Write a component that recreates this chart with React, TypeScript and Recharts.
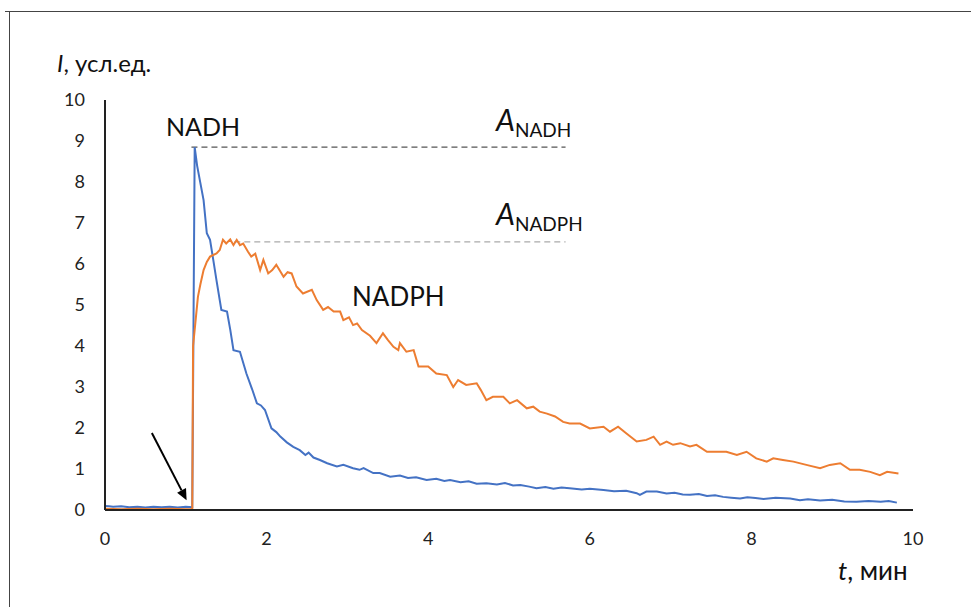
import { LineChart, Line, XAxis, YAxis, ReferenceLine } from 'recharts';

// NADH (blue) curve, t in minutes, I in arb. units
const nadhT = [0, 0.05, 0.1, 0.2, 0.3, 0.4, 0.5, 0.6, 0.7, 0.8, 0.9, 1.0, 1.08, 1.11, 1.14, 1.18, 1.22, 1.26, 1.3, 1.34, 1.38, 1.42, 1.44, 1.51, 1.55, 1.59, 1.67, 1.75, 1.82, 1.88, 1.93, 1.98, 2.06, 2.12, 2.17, 2.25, 2.33, 2.41, 2.48, 2.52, 2.58, 2.66, 2.75, 2.87, 2.95, 3.07, 3.15, 3.2, 3.32, 3.4, 3.53, 3.65, 3.75, 3.85, 3.98, 4.1, 4.2, 4.27, 4.4, 4.5, 4.6, 4.72, 4.85, 4.95, 5.05, 5.14, 5.25, 5.34, 5.45, 5.55, 5.65, 5.75, 5.9, 6.0, 6.17, 6.3, 6.45, 6.58, 6.62, 6.7, 6.83, 6.95, 7.05, 7.15, 7.24, 7.35, 7.45, 7.55, 7.65, 7.75, 7.86, 7.95, 8.05, 8.15, 8.3, 8.48, 8.6, 8.7, 8.85, 9.0, 9.15, 9.3, 9.45, 9.6, 9.7, 9.8];
const nadhI = [0.1, 0.09, 0.08, 0.09, 0.07, 0.08, 0.06, 0.08, 0.07, 0.08, 0.06, 0.08, 0.07, 8.85, 8.4, 7.98, 7.56, 6.75, 6.59, 6.1, 5.6, 5.12, 4.88, 4.84, 4.4, 3.9, 3.86, 3.33, 2.95, 2.6, 2.55, 2.44, 1.99, 1.9, 1.79, 1.65, 1.54, 1.46, 1.34, 1.4, 1.28, 1.22, 1.14, 1.06, 1.1, 1.02, 0.98, 1.02, 0.9, 0.9, 0.81, 0.84, 0.78, 0.8, 0.73, 0.76, 0.71, 0.73, 0.68, 0.7, 0.64, 0.65, 0.62, 0.66, 0.6, 0.61, 0.57, 0.53, 0.56, 0.52, 0.55, 0.53, 0.5, 0.52, 0.49, 0.46, 0.47, 0.41, 0.37, 0.45, 0.45, 0.4, 0.42, 0.38, 0.37, 0.39, 0.34, 0.36, 0.32, 0.3, 0.28, 0.31, 0.29, 0.27, 0.3, 0.28, 0.24, 0.26, 0.23, 0.25, 0.21, 0.2, 0.22, 0.2, 0.22, 0.18];

// NADPH (orange) curve
const nadphT = [0, 0.2, 0.4, 0.6, 0.8, 1.0, 1.08, 1.09, 1.11, 1.15, 1.18, 1.22, 1.26, 1.3, 1.38, 1.42, 1.46, 1.5, 1.55, 1.59, 1.63, 1.67, 1.71, 1.77, 1.81, 1.86, 1.92, 1.96, 2.02, 2.07, 2.12, 2.21, 2.26, 2.31, 2.37, 2.45, 2.56, 2.62, 2.7, 2.76, 2.83, 2.91, 2.95, 3.02, 3.07, 3.12, 3.18, 3.28, 3.36, 3.44, 3.5, 3.57, 3.63, 3.65, 3.73, 3.82, 3.88, 4.0, 4.1, 4.23, 4.31, 4.37, 4.47, 4.6, 4.65, 4.72, 4.8, 4.93, 5.01, 5.1, 5.22, 5.3, 5.38, 5.47, 5.57, 5.67, 5.75, 5.88, 6.0, 6.17, 6.25, 6.35, 6.45, 6.58, 6.7, 6.79, 6.87, 6.95, 7.03, 7.12, 7.24, 7.32, 7.45, 7.57, 7.69, 7.82, 7.94, 8.06, 8.19, 8.27, 8.39, 8.52, 8.68, 8.85, 8.97, 9.1, 9.22, 9.34, 9.47, 9.59, 9.68, 9.82];
const nadphI = [0.03, 0.02, 0.03, 0.02, 0.03, 0.02, 0.02, 4.0, 4.4, 5.2, 5.5, 5.85, 6.05, 6.18, 6.26, 6.34, 6.59, 6.5, 6.6, 6.46, 6.59, 6.46, 6.5, 6.3, 6.18, 6.25, 5.85, 6.1, 5.77, 5.85, 5.98, 5.69, 5.8, 5.77, 5.45, 5.28, 5.37, 5.12, 4.88, 4.95, 4.84, 4.84, 4.63, 4.7, 4.51, 4.55, 4.39, 4.25, 4.07, 4.31, 4.15, 3.98, 3.9, 4.07, 3.86, 3.9, 3.5, 3.5, 3.33, 3.29, 3.0, 3.17, 3.05, 3.09, 2.93, 2.68, 2.76, 2.76, 2.6, 2.68, 2.48, 2.52, 2.4, 2.35, 2.28, 2.15, 2.11, 2.11, 1.99, 2.03, 1.91, 2.03, 1.87, 1.67, 1.71, 1.79, 1.59, 1.67, 1.59, 1.63, 1.55, 1.59, 1.42, 1.42, 1.42, 1.34, 1.42, 1.26, 1.18, 1.26, 1.22, 1.18, 1.1, 1.02, 1.1, 1.14, 0.98, 0.98, 0.93, 0.85, 0.93, 0.89];

const xTicks = [0, 2, 4, 6, 8, 10];
const yTicks = [0, 1, 2, 3, 4, 5, 6, 7, 8, 9, 10];

// amplitude levels and extent of the dashed markers
const ampNadh = 8.85;
const ampNadph = 6.54;
const ampNadhFrom = 1.07;
const ampNadphFrom = 1.6;
const ampTo = 5.7;

// injection arrow (start -> end, data coords)
const arrowFrom = { x: 0.58, y: 1.88 };
const arrowTo = { x: 1.01, y: 0.24 };

const nadhData = nadhT.map((t, i) => ({ t, v: nadhI[i] }));
const nadphData = nadphT.map((t, i) => ({ t, v: nadphI[i] }));

const font = 'Lato, "Open Sans", sans-serif';

const Arrow = (props: any) => {
    const { x1, y1, x2, y2 } = props;
    const ang = Math.atan2(y2 - y1, x2 - x1);
    const len = 11;
    const w = 5;
    const bx = x2 - len * Math.cos(ang);
    const by = y2 - len * Math.sin(ang);
    const px = -Math.sin(ang) * w;
    const py = Math.cos(ang) * w;
    return (
        <g>
            <line x1={x1} y1={y1} x2={bx} y2={by} stroke="#000" strokeWidth={2} />
            <polygon points={`${x2},${y2} ${bx + px},${by + py} ${bx - px},${by - py}`} fill="#000" />
        </g>
    );
};

const sub = { fontSize: 19, position: 'relative' as const, top: 6 };

export default function App() {
    return (
        <div style={{ position: 'fixed', left: 0, top: 0, width: 971, height: 607, background: '#fff', fontFamily: font, overflow: 'hidden' }}>
            <div style={{ position: 'absolute', left: 5, top: 11, width: 966, height: 0, borderTop: '1.5px solid #444' }} />
            <div style={{ position: 'absolute', left: 9, top: 11, width: 0, height: 596, borderLeft: '1.5px solid #444' }} />

            <LineChart width={971} height={607} data={nadhData} margin={{ top: 100, right: 58, left: 0, bottom: 0 }}>
                <XAxis
                    dataKey="t"
                    type="number"
                    domain={[0, 10]}
                    ticks={xTicks}
                    height={97}
                    tickLine={false}
                    tickSize={0}
                    tickMargin={22}
                    axisLine={{ stroke: '#222', strokeWidth: 2 }}
                    tick={{ fill: '#222', fontSize: 18, fontFamily: font }}
                />
                <YAxis
                    type="number"
                    domain={[0, 10]}
                    ticks={yTicks}
                    width={105}
                    tickLine={false}
                    tickSize={0}
                    tickMargin={20}
                    axisLine={{ stroke: '#222', strokeWidth: 2 }}
                    tick={{ fill: '#222', fontSize: 18, fontFamily: font }}
                />
                <ReferenceLine segment={[{ x: ampNadhFrom, y: ampNadh }, { x: ampTo, y: ampNadh }]} stroke="#555" strokeWidth={1.3} strokeDasharray="6 4" />
                <ReferenceLine segment={[{ x: ampNadphFrom, y: ampNadph }, { x: ampTo, y: ampNadph }]} stroke="#aaa" strokeWidth={1.3} strokeDasharray="6 4" />
                <Line data={nadhData} dataKey="v" type="linear" stroke="#4472C4" strokeWidth={2} dot={false} isAnimationActive={false} />
                <Line data={nadphData} dataKey="v" type="linear" stroke="#ED7D31" strokeWidth={2} dot={false} isAnimationActive={false} />
                <ReferenceLine segment={[arrowFrom, arrowTo]} shape={Arrow} />
            </LineChart>

            <div style={{ position: 'absolute', left: 57, top: 48, fontSize: 24, color: '#111', whiteSpace: 'nowrap' }}>
                <i>I</i>, усл.ед.
            </div>
            <div style={{ position: 'absolute', left: 838, top: 554, fontSize: 26, color: '#111', whiteSpace: 'nowrap' }}>
                <i>t</i>, мин
            </div>
            <div style={{ position: 'absolute', left: 166, top: 111, fontSize: 25, color: '#111' }}>NADH</div>
            <div style={{ position: 'absolute', left: 352, top: 280, fontSize: 26, color: '#111' }}>NADPH</div>
            <div style={{ position: 'absolute', left: 496, top: 101, fontSize: 30, color: '#111', whiteSpace: 'nowrap' }}>
                <i>A</i><span style={sub}>NADH</span>
            </div>
            <div style={{ position: 'absolute', left: 496, top: 195, fontSize: 30, color: '#111', whiteSpace: 'nowrap' }}>
                <i>A</i><span style={sub}>NADPH</span>
            </div>
        </div>
    );
}
